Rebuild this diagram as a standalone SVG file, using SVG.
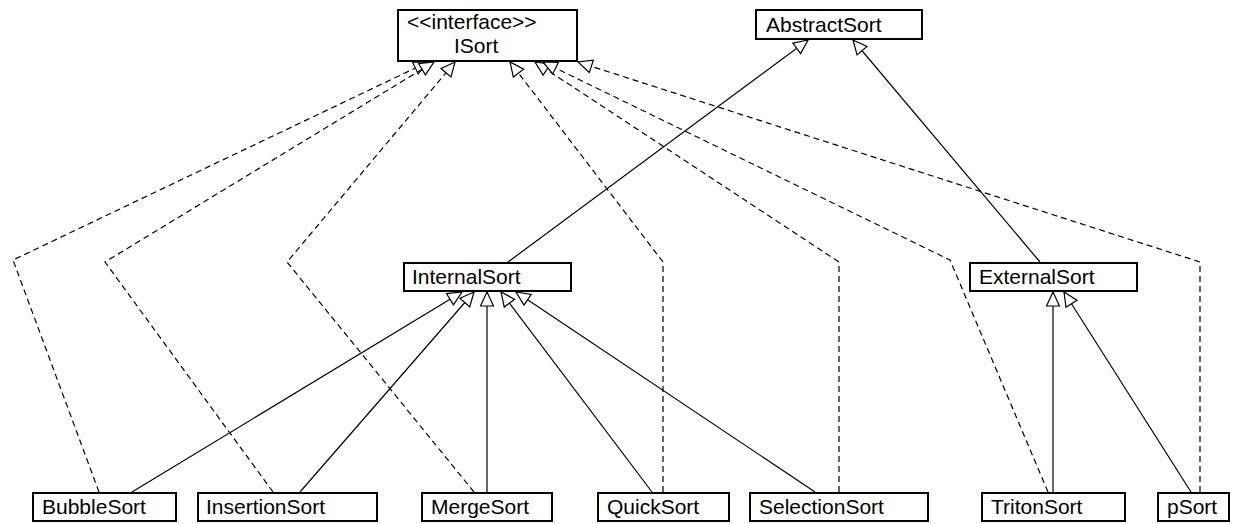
<svg xmlns="http://www.w3.org/2000/svg" width="1233" height="524" viewBox="0 0 1233 524">
<style>
.box{fill:#fff;stroke:#000;stroke-width:2}
.lbl{font-family:"Liberation Sans",Arial,sans-serif;font-size:21px;fill:#000}
.solid{fill:none;stroke:#000;stroke-width:1.2;marker-end:url(#tri)}
.dash{fill:none;stroke:#000;stroke-width:1.2;stroke-dasharray:6,4;marker-end:url(#tri)}
</style>
<defs>
<marker id="tri" markerUnits="userSpaceOnUse" viewBox="-1 -8 16 16" markerWidth="16" markerHeight="16" refX="14" refY="0" orient="auto">
<path d="M0,-6.5 L14,0 L0,6.5 Z" fill="#fff" stroke="#000" stroke-width="1.2" stroke-dasharray="none"/>
</marker>
</defs>
<rect width="1233" height="524" fill="#fff"/>
<g id="connectors">
<path class="dash" d="M99,492 L13,260 L428,62"/>
<path class="dash" d="M273,492 L105,262 L434,62"/>
<path class="dash" d="M474,492 L287,262 L455,62"/>
<path class="dash" d="M663,492 L663,262 L510,62"/>
<path class="dash" d="M839,492 L839,262 L535,62"/>
<path class="dash" d="M1048,492 L950,260 L543,62"/>
<path class="dash" d="M1200,492 L1200,262 L578,62"/>
<path class="solid" d="M132,492 L462,292"/>
<path class="solid" d="M300,492 L474,292"/>
<path class="solid" d="M487,492 L487,292"/>
<path class="solid" d="M652,492 L501,292"/>
<path class="solid" d="M815,492 L516,292"/>
<path class="solid" d="M1053,492 L1053,292"/>
<path class="solid" d="M1191,492 L1064,292"/>
<path class="solid" d="M508,262 L808,40"/>
<path class="solid" d="M1040,262 L853,40"/>
</g>
<g id="ISort"><rect class="box" x="398" y="10" width="179" height="51"/><text class="lbl" x="407" y="29">&lt;&lt;interface&gt;&gt;</text><text class="lbl" x="454" y="53">ISort</text></g>
<g id="AbstractSort"><rect class="box" x="756" y="10" width="166" height="29"/><text class="lbl" x="766" y="32">AbstractSort</text></g>
<g id="InternalSort"><rect class="box" x="404" y="263" width="167" height="28"/><text class="lbl" x="412" y="284">InternalSort</text></g>
<g id="ExternalSort"><rect class="box" x="970" y="263" width="167" height="28"/><text class="lbl" x="979" y="284">ExternalSort</text></g>
<g id="BubbleSort"><rect class="box" x="33" y="493" width="143" height="28"/><text class="lbl" x="42" y="514">BubbleSort</text></g>
<g id="InsertionSort"><rect class="box" x="198" y="493" width="179" height="28"/><text class="lbl" x="206" y="514">InsertionSort</text></g>
<g id="MergeSort"><rect class="box" x="422" y="493" width="130" height="28"/><text class="lbl" x="431" y="514">MergeSort</text></g>
<g id="QuickSort"><rect class="box" x="598" y="493" width="131" height="28"/><text class="lbl" x="607" y="514">QuickSort</text></g>
<g id="SelectionSort"><rect class="box" x="750" y="493" width="178" height="28"/><text class="lbl" x="759" y="514">SelectionSort</text></g>
<g id="TritonSort"><rect class="box" x="982" y="493" width="143" height="28"/><text class="lbl" x="991" y="514">TritonSort</text></g>
<g id="pSort"><rect class="box" x="1158" y="493" width="71" height="28"/><text class="lbl" x="1167" y="514">pSort</text></g>
</svg>
